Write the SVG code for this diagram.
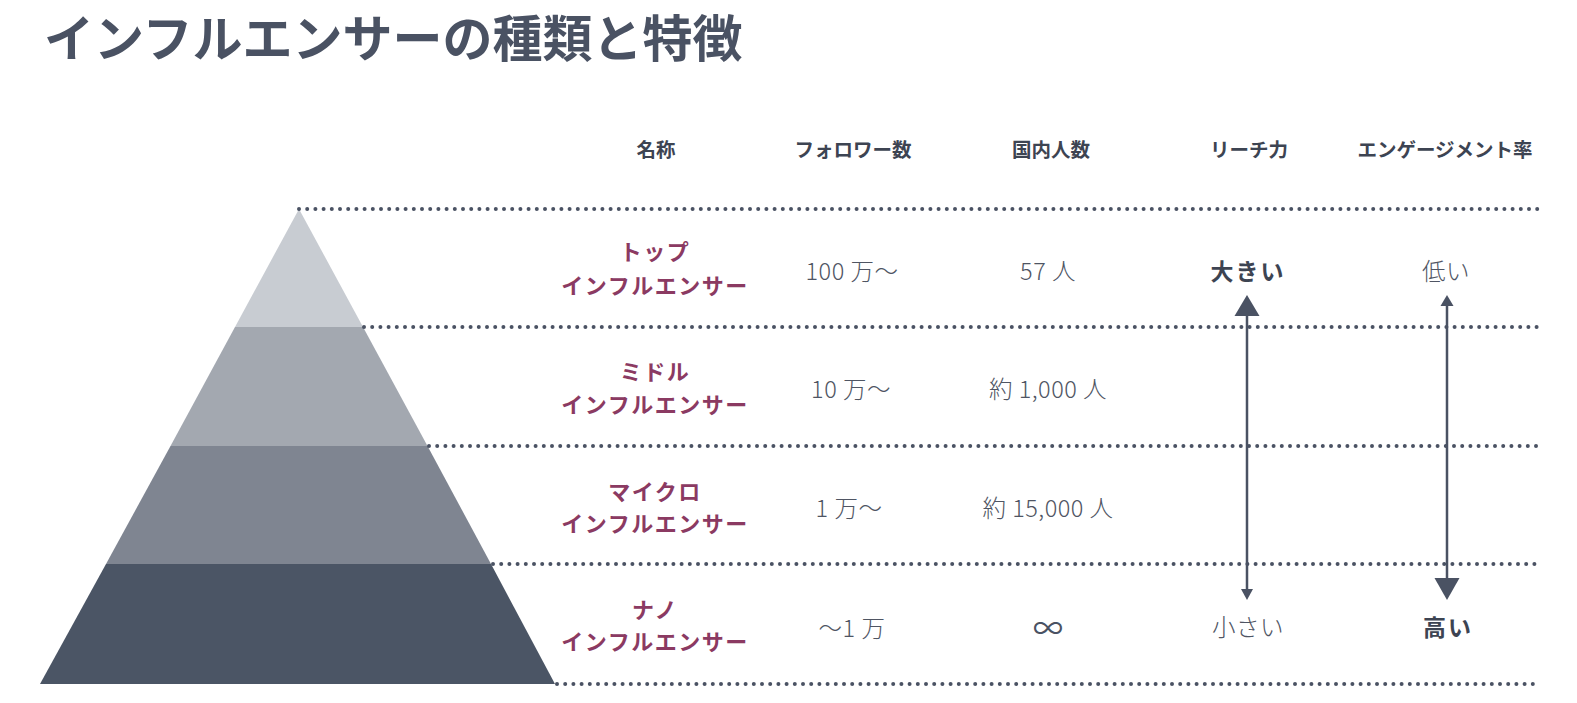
<svg xmlns="http://www.w3.org/2000/svg" width="1577" height="703" viewBox="0 0 1577 703">
<style>
text{font-family:"Noto Sans CJK JP","Noto Sans",sans-serif;}
.title{font-size:50px;font-weight:700;fill:#4a5263;}
.hd{font-size:19.5px;font-weight:700;fill:#3d4452;text-anchor:middle;dominant-baseline:central;}
.nm{font-size:22px;font-weight:700;fill:#8b3a62;text-anchor:middle;dominant-baseline:central;letter-spacing:1.5px;}
.val{font-size:23.5px;font-weight:300;fill:#4f5563;text-anchor:middle;dominant-baseline:central;letter-spacing:0.5px;}
.bold{font-size:23px;font-weight:700;fill:#3d4452;text-anchor:middle;dominant-baseline:central;letter-spacing:2px;}
.inf{font-size:30px;font-weight:400;fill:#4a5263;text-anchor:middle;dominant-baseline:central;}
.dot{stroke:#4a5263;stroke-width:4;stroke-linecap:round;stroke-dasharray:0 8.2;fill:none;}
.arr{stroke:#4a5263;stroke-width:2.5;fill:none;}
.head{fill:#4a5263;}
</style>
<text class="title" x="44" y="57">インフルエンサーの種類と特徴</text>
<g id="header">
<text class="hd" x="656" y="148">名称</text>
<text class="hd" x="853" y="148">フォロワー数</text>
<text class="hd" x="1051" y="148">国内人数</text>
<text class="hd" x="1249" y="148">リーチ力</text>
<text class="hd" x="1445" y="148">エンゲージメント率</text>
</g>
<g id="pyramid">
<polygon id="tier-top" points="299,209 363,327 235,327" fill="#c8ccd2"/>
<polygon id="tier-middle" points="235,327 363,327 427.5,446 170.5,446" fill="#a3a8b0"/>
<polygon id="tier-micro" points="170.5,446 427.5,446 491,564 106,564" fill="#7f8591"/>
<polygon id="tier-nano" points="106,564 491,564 555,684 40,684" fill="#4b5565"/>
</g>
<g id="connectors">
<line class="dot" x1="299" y1="209" x2="1540" y2="209"/>
<line class="dot" x1="364" y1="327" x2="1540" y2="327"/>
<line class="dot" x1="429" y1="446" x2="1540" y2="446"/>
<line class="dot" x1="493" y1="564" x2="1540" y2="564"/>
<line class="dot" x1="557" y1="684" x2="1540" y2="684"/>
<line class="arr" x1="1247" y1="312" x2="1247" y2="592"/>
<polygon class="head" points="1247,295 1259.5,316 1234.5,316"/>
<polygon class="head" points="1247,600 1253,589 1241,589"/>
<line class="arr" x1="1447" y1="302" x2="1447" y2="582"/>
<polygon class="head" points="1447,295 1453.5,306 1440.5,306"/>
<polygon class="head" points="1447,600 1459.5,578 1434.5,578"/>
</g>
<g id="row-top">
<text class="nm" x="655" y="250">トップ</text>
<text class="nm" x="655" y="284">インフルエンサー</text>
<text class="val" x="852" y="270">100 万〜</text>
<text class="val" x="1048" y="270">57 人</text>
<text class="bold" x="1248" y="270">大きい</text>
<text class="val" x="1446" y="270">低い</text>
</g>
<g id="row-middle">
<text class="nm" x="655" y="370">ミドル</text>
<text class="nm" x="655" y="403">インフルエンサー</text>
<text class="val" x="851" y="388">10 万〜</text>
<text class="val" x="1048" y="388">約 1,000 人</text>
</g>
<g id="row-micro">
<text class="nm" x="655" y="490">マイクロ</text>
<text class="nm" x="655" y="522">インフルエンサー</text>
<text class="val" x="849" y="507">1 万〜</text>
<text class="val" x="1048" y="507">約 15,000 人</text>
</g>
<g id="row-nano">
<text class="nm" x="655" y="608">ナノ</text>
<text class="nm" x="655" y="640">インフルエンサー</text>
<text class="val" x="852" y="627">〜1 万</text>
<text class="inf" x="1048" y="626">∞</text>
<text class="val" x="1248" y="626">小さい</text>
<text class="bold" x="1448" y="626">高い</text>
</g>
</svg>
